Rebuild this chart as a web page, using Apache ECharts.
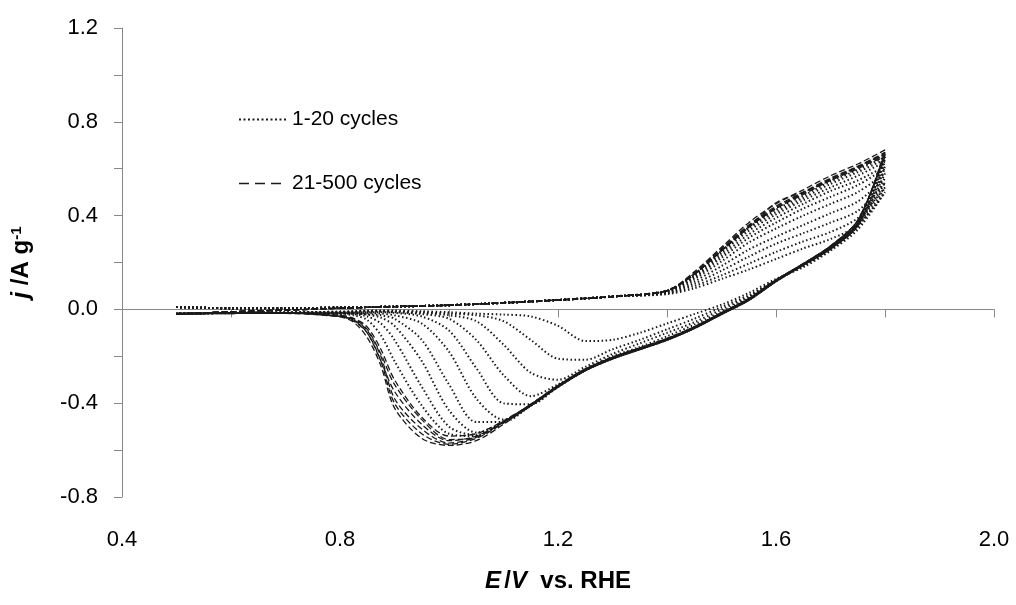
<!DOCTYPE html>
<html>
<head>
<meta charset="utf-8">
<script src="https://cdn.jsdelivr.net/npm/echarts@6/dist/echarts.min.js"></script>
<style>
  html, body { margin: 0; padding: 0; background: #fff; }
  #chart { width: 1016px; height: 605px; }
</style>
</head>
<body>
<div id="chart"></div>
<script>
// potential grids (V vs. RHE)
const anodicBaseE = [0.5, 0.6, 0.7, 0.8, 0.9, 1.0, 1.1, 1.2, 1.3]
const anodicTopE = [1.4, 1.45, 1.5, 1.55, 1.6, 1.65, 1.7, 1.75, 1.8]
const cathodicE = [1.75, 1.7, 1.65, 1.6, 1.55, 1.5, 1.45, 1.4, 1.35, 1.3, 1.25, 1.2, 1.15, 1.1, 1.05, 1.0, 0.95, 0.9, 0.875, 0.85, 0.825, 0.8, 0.7, 0.6, 0.5]

// shared low-potential part of the anodic scan (A/g)
const dottedBaseJ = [0.01, 0.005, 0.005, 0.008, 0.012, 0.018, 0.028, 0.04, 0.055]
const dashedBaseJ = [-0.02, -0.01, -0.003, 0.005, 0.012, 0.018, 0.028, 0.04, 0.055]

// 1-20 cycles (dotted)
const dottedTopJ = [
  [0.065, 0.09, 0.13, 0.17, 0.215, 0.26, 0.30, 0.36, 0.50],
  [0.068, 0.10, 0.145, 0.195, 0.245, 0.29, 0.33, 0.39, 0.52],
  [0.07, 0.11, 0.165, 0.225, 0.28, 0.325, 0.37, 0.42, 0.54],
  [0.072, 0.12, 0.185, 0.255, 0.31, 0.36, 0.41, 0.46, 0.56],
  [0.075, 0.13, 0.205, 0.285, 0.345, 0.40, 0.45, 0.50, 0.58],
  [0.077, 0.135, 0.22, 0.305, 0.37, 0.43, 0.48, 0.53, 0.60],
  [0.078, 0.14, 0.23, 0.32, 0.39, 0.45, 0.505, 0.55, 0.61],
  [0.08, 0.145, 0.24, 0.335, 0.405, 0.465, 0.52, 0.57, 0.63],
  [0.08, 0.15, 0.245, 0.345, 0.415, 0.475, 0.535, 0.585, 0.64],
  [0.08, 0.15, 0.25, 0.35, 0.425, 0.485, 0.545, 0.595, 0.65]
]
const dottedCathJ = [
  [0.34, 0.25, 0.18, 0.13, 0.07, 0.02, -0.02, -0.06, -0.10, -0.13, -0.135, -0.07, -0.03, -0.022, -0.018, -0.012, -0.008, -0.005, -0.005, -0.005, -0.008, -0.01, -0.012, -0.015, -0.018],
  [0.35, 0.255, 0.185, 0.125, 0.06, 0.01, -0.04, -0.085, -0.13, -0.17, -0.215, -0.21, -0.13, -0.05, -0.025, -0.018, -0.012, -0.008, -0.007, -0.007, -0.009, -0.01, -0.012, -0.015, -0.018],
  [0.36, 0.26, 0.19, 0.125, 0.055, 0.0, -0.055, -0.10, -0.145, -0.19, -0.245, -0.30, -0.27, -0.15, -0.05, -0.025, -0.015, -0.01, -0.008, -0.008, -0.01, -0.012, -0.013, -0.015, -0.018],
  [0.36, 0.26, 0.19, 0.125, 0.05, -0.01, -0.065, -0.115, -0.16, -0.20, -0.255, -0.32, -0.37, -0.28, -0.13, -0.04, -0.02, -0.012, -0.01, -0.01, -0.012, -0.013, -0.014, -0.015, -0.018],
  [0.36, 0.26, 0.19, 0.125, 0.045, -0.015, -0.075, -0.125, -0.165, -0.205, -0.26, -0.33, -0.405, -0.40, -0.25, -0.09, -0.03, -0.015, -0.012, -0.012, -0.013, -0.014, -0.015, -0.015, -0.018],
  [0.36, 0.26, 0.19, 0.12, 0.04, -0.02, -0.08, -0.13, -0.17, -0.21, -0.26, -0.33, -0.41, -0.47, -0.38, -0.18, -0.06, -0.025, -0.018, -0.015, -0.015, -0.015, -0.015, -0.016, -0.018],
  [0.36, 0.26, 0.19, 0.12, 0.04, -0.02, -0.08, -0.13, -0.17, -0.21, -0.26, -0.33, -0.41, -0.48, -0.48, -0.32, -0.13, -0.04, -0.025, -0.02, -0.017, -0.016, -0.015, -0.016, -0.018],
  [0.36, 0.26, 0.19, 0.12, 0.04, -0.02, -0.08, -0.13, -0.17, -0.21, -0.26, -0.33, -0.41, -0.48, -0.525, -0.43, -0.22, -0.07, -0.035, -0.022, -0.018, -0.016, -0.015, -0.016, -0.018],
  [0.36, 0.26, 0.19, 0.12, 0.04, -0.02, -0.08, -0.13, -0.17, -0.21, -0.26, -0.33, -0.41, -0.48, -0.535, -0.50, -0.33, -0.13, -0.06, -0.03, -0.02, -0.017, -0.015, -0.016, -0.018],
  [0.36, 0.26, 0.19, 0.12, 0.04, -0.02, -0.08, -0.13, -0.17, -0.21, -0.26, -0.33, -0.41, -0.48, -0.54, -0.53, -0.41, -0.22, -0.11, -0.045, -0.025, -0.02, -0.015, -0.016, -0.018]
]

// 21-500 cycles (dashed)
const dashedTopJ = [
  [0.08, 0.15, 0.25, 0.35, 0.43, 0.49, 0.55, 0.60, 0.66],
  [0.08, 0.155, 0.26, 0.36, 0.44, 0.50, 0.56, 0.61, 0.67],
  [0.078, 0.15, 0.25, 0.355, 0.43, 0.495, 0.555, 0.605, 0.65],
  [0.08, 0.16, 0.265, 0.37, 0.45, 0.51, 0.57, 0.62, 0.68],
  [0.08, 0.15, 0.25, 0.35, 0.455, 0.50, 0.55, 0.61, 0.66],
  [0.08, 0.15, 0.255, 0.355, 0.435, 0.495, 0.555, 0.605, 0.665]
]
const dashedCathJ = [
  [0.38, 0.27, 0.195, 0.125, 0.045, -0.015, -0.075, -0.125, -0.165, -0.205, -0.255, -0.325, -0.405, -0.48, -0.54, -0.56, -0.49, -0.35, -0.22, -0.10, -0.045, -0.028, -0.015, -0.015, -0.02],
  [0.37, 0.265, 0.19, 0.12, 0.04, -0.02, -0.08, -0.13, -0.17, -0.21, -0.26, -0.33, -0.41, -0.485, -0.55, -0.575, -0.53, -0.40, -0.22, -0.10, -0.05, -0.03, -0.016, -0.016, -0.02],
  [0.38, 0.27, 0.195, 0.125, 0.045, -0.015, -0.075, -0.125, -0.165, -0.205, -0.255, -0.325, -0.405, -0.475, -0.53, -0.54, -0.46, -0.30, -0.17, -0.075, -0.038, -0.025, -0.015, -0.015, -0.02],
  [0.37, 0.265, 0.19, 0.12, 0.04, -0.02, -0.08, -0.13, -0.17, -0.21, -0.26, -0.33, -0.41, -0.49, -0.56, -0.58, -0.55, -0.42, -0.24, -0.12, -0.055, -0.032, -0.017, -0.016, -0.02],
  [0.38, 0.27, 0.195, 0.125, 0.045, -0.015, -0.075, -0.125, -0.165, -0.205, -0.255, -0.325, -0.405, -0.48, -0.545, -0.57, -0.51, -0.38, -0.20, -0.09, -0.045, -0.03, -0.015, -0.016, -0.02],
  [0.375, 0.27, 0.195, 0.125, 0.045, -0.015, -0.075, -0.125, -0.165, -0.205, -0.255, -0.325, -0.405, -0.48, -0.545, -0.555, -0.47, -0.32, -0.19, -0.085, -0.04, -0.026, -0.015, -0.015, -0.02]
]

const legendNames = ['1-20 cycles', '21-500 cycles']

function pairs(es, js) {
  return es.map((e, i) => [e, js[i]])
}

function cycle(base, top, cath) {
  return pairs(anodicBaseE, base).concat(pairs(anodicTopE, top), pairs(cathodicE, cath))
}

const series = []
dottedTopJ.forEach((top, i) => {
  series.push({
    name: legendNames[0],
    type: 'line',
    symbol: 'none',
    smooth: 0.3,
    data: cycle(dottedBaseJ, top, dottedCathJ[i]),
    lineStyle: { color: '#1a1a1a', width: 2, type: [1.5, 2.5] },
  })
})
dashedTopJ.forEach((top, i) => {
  series.push({
    name: legendNames[1],
    type: 'line',
    symbol: 'none',
    smooth: 0.3,
    data: cycle(dashedBaseJ, top, dashedCathJ[i]),
    lineStyle: { color: '#1a1a1a', width: 1.3, type: [6, 3] },
  })
})

const chart = echarts.init(document.getElementById('chart'), null, { renderer: 'canvas' })
chart.setOption({
  animation: false,
  backgroundColor: '#fff',
  textStyle: { fontFamily: 'Liberation Sans, Arial, sans-serif', color: '#000' },
  grid: { left: 122, right: 22, top: 28, bottom: 108 },
  legend: {
    data: [
      { name: legendNames[0], lineStyle: { type: [2, 2.5], width: 2 } },
      { name: legendNames[1], lineStyle: { type: [10, 6], width: 1.3 } },
    ],
    orient: 'vertical',
    left: 233,
    top: 104,
    itemWidth: 48,
    itemHeight: 14,
    itemGap: 43,
    selectedMode: false,
    itemStyle: { color: 'rgba(0,0,0,0)', borderWidth: 0 },
    textStyle: { fontSize: 21, color: '#000', fontFamily: 'Liberation Sans, Arial, sans-serif' },
  },
  xAxis: {
    type: 'value',
    min: 0.4,
    max: 2.0,
    interval: 0.4,
    splitLine: { show: false },
    axisLine: { lineStyle: { color: '#888', width: 1 } },
    axisTick: { inside: false, length: 8, lineStyle: { color: '#888' } },
    minorTick: { show: true, splitNumber: 2, length: 8, lineStyle: { color: '#888' } },
    axisLabel: { fontSize: 22, color: '#000', margin: 32, formatter: (v) => v.toFixed(1) },
    name: '{i|E} {b|/}{i|V}{b|  vs. RHE}',
    nameLocation: 'middle',
    nameGap: 72,
    nameTextStyle: {
      rich: {
        i: { fontSize: 24, fontWeight: 'bold', fontStyle: 'italic', color: '#000' },
        b: { fontSize: 24, fontWeight: 'bold', color: '#000' },
      },
    },
  },
  yAxis: {
    type: 'value',
    min: -0.8,
    max: 1.2,
    interval: 0.4,
    splitLine: { show: false },
    axisLine: { show: true, lineStyle: { color: '#888', width: 1 } },
    axisTick: { show: true, inside: false, length: 8, lineStyle: { color: '#888' } },
    minorTick: { show: true, splitNumber: 2, length: 8, lineStyle: { color: '#888' } },
    axisLabel: { fontSize: 22, color: '#000', margin: 24, formatter: (v) => v.toFixed(1) },
    name: '{i|j}{b| /A g}{s|-1}',
    nameLocation: 'middle',
    nameRotate: 90,
    nameGap: 88,
    nameTextStyle: {
      rich: {
        i: { fontSize: 24, fontWeight: 'bold', fontStyle: 'italic', color: '#000' },
        b: { fontSize: 24, fontWeight: 'bold', color: '#000' },
        s: { fontSize: 15, fontWeight: 'bold', color: '#000', verticalAlign: 'top', padding: [0, 0, 10, 0] },
      },
    },
  },
  series: series,
})
</script>
</body>
</html>
